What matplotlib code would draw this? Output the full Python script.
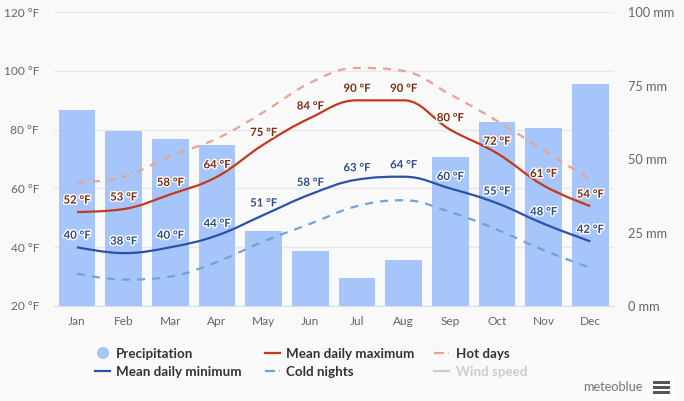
import matplotlib
matplotlib.use("Agg")
import matplotlib.pyplot as plt
import matplotlib.patheffects as pe
from matplotlib.lines import Line2D
from matplotlib.patches import Circle, PathPatch, Rectangle
from matplotlib.path import Path
from matplotlib.transforms import Affine2D

months = ["Jan", "Feb", "Mar", "Apr", "May", "Jun", "Jul", "Aug", "Sep", "Oct", "Nov", "Dec"]
precip_mm = [66.7, 59.5, 56.8, 54.8, 25.5, 18.7, 9.5, 15.6, 50.7, 62.6, 60.6, 75.5]
temp_max = [52, 53, 58, 64, 75, 84, 90, 90, 80, 72, 61, 54]
temp_min = [40, 38, 40, 44, 51, 58, 63, 64, 60, 55, 48, 42]
hot_days = [62, 64, 71, 77, 86, 96, 101, 100, 92, 83, 73, 63]
cold_nights = [31, 29, 30, 35, 42, 48, 54, 56, 52, 46, 39, 33]
temp_ticks = [20, 40, 60, 80, 100, 120]
precip_ticks = [0, 25, 50, 75, 100]

W, H = 684, 401
BG = "#f9f9f9"
GRID = "#e8e8e8"
TICK = "#666666"
BAR = "#a6c6fb"
RED = "#c2391b"
BLUE = "#2b52a8"
HOT = "#e8a396"
COLD = "#70a3d3"

plt.rcParams["font.family"] = ["Lato", "DejaVu Sans"]


def spline_path(xs, ys, smoothing=1.5):
    # same control points a Highcharts spline uses, one bezier per month
    verts = [(xs[0], ys[0])]
    codes = [Path.MOVETO]
    right = [(xs[0], ys[0])]
    left = [None]
    for i in range(1, len(xs) - 1):
        lx = (smoothing * xs[i] + xs[i - 1]) / (smoothing + 1)
        ly = (smoothing * ys[i] + ys[i - 1]) / (smoothing + 1)
        rx = (smoothing * xs[i] + xs[i + 1]) / (smoothing + 1)
        ry = (smoothing * ys[i] + ys[i + 1]) / (smoothing + 1)
        corr = (ry - ly) * (rx - xs[i]) / (rx - lx) + ys[i] - ry
        ly += corr
        ry += corr
        if ly > ys[i - 1] and ly > ys[i]:
            ly = max(ys[i - 1], ys[i])
            ry = 2 * ys[i] - ly
        elif ly < ys[i - 1] and ly < ys[i]:
            ly = min(ys[i - 1], ys[i])
            ry = 2 * ys[i] - ly
        if ry > ys[i + 1] and ry > ys[i]:
            ry = max(ys[i + 1], ys[i])
            ly = 2 * ys[i] - ry
        elif ry < ys[i + 1] and ry < ys[i]:
            ry = min(ys[i + 1], ys[i])
            ly = 2 * ys[i] - ry
        left.append((lx, ly))
        right.append((rx, ry))
    left.append((xs[-1], ys[-1]))
    for i in range(1, len(xs)):
        verts += [right[i - 1], left[i], (xs[i], ys[i])]
        codes += [Path.CURVE4] * 3
    return Path(verts, codes)


fig = plt.figure(figsize=(W / 100, H / 100), dpi=100, facecolor=BG)
px = Affine2D().scale(1 / W, -1 / H).translate(0, 1) + fig.transFigure

left, right, top, bottom = 53.7, 613.6, 12.2, 306
ax = fig.add_axes([left / W, 1 - bottom / H, (right - left) / W, (bottom - top) / H])
ax.set_facecolor("none")
ax.set_xlim(-0.5, 11.5)
ax.set_ylim(20, 120)
ax.set_xticks(range(12), months)
ax.set_yticks(temp_ticks, [f"{t} °F" for t in temp_ticks])
ax.tick_params(axis="both", length=0, labelsize=8.6, labelcolor=TICK)
ax.tick_params(axis="y", pad=10.5)
ax.tick_params(axis="x", pad=7.5)
ax.grid(axis="y", color=GRID, lw=1)
ax.set_axisbelow(True)
for s in ["top", "left", "right"]:
    ax.spines[s].set_visible(False)
ax.spines["bottom"].set_color("#d8dfe8")

axr = ax.twinx()
axr.set_ylim(0, 100)
axr.set_yticks(precip_ticks, [f"{t} mm" for t in precip_ticks])
axr.tick_params(axis="y", length=0, labelsize=9.2, labelcolor=TICK, pad=10.5)
for s in axr.spines.values():
    s.set_visible(False)
axr.bar(range(12), precip_mm, width=0.785, color=BAR, zorder=1)

# lines have to sit over the bars, so they go on a third layer
top_ax = fig.add_axes(ax.get_position(), sharex=ax, sharey=ax)
top_ax.axis("off")
xs = list(range(12))
for ys, color, lw, ls in [
    (cold_nights, COLD, 1.6, (0, (3.6, 3.2))),
    (hot_days, HOT, 1.6, (0, (3.6, 3.2))),
    (temp_max, RED, 1.6, "-"),
    (temp_min, BLUE, 1.6, "-"),
]:
    top_ax.add_patch(PathPatch(spline_path(xs, ys), fc="none", ec=color, lw=lw, ls=ls, capstyle="butt"))

halo = [pe.withStroke(linewidth=2, foreground="white")]
for ys, color in [(temp_max, "#7a2c12"), (temp_min, "#2d4a8a")]:
    for x, y in zip(xs, ys):
        top_ax.annotate(f"{y} °F", (x, y), xytext=(0, 8.6), textcoords="offset points", ha="center", va="center",
                        fontsize=8.2, fontweight="bold", color=color, path_effects=halo)

# legend, placed by hand in pixel positions
legend_text = "#333333"
fig.add_artist(Circle((103, 353), 6, transform=px, fc=BAR, ec="none"))
for x0, y, color, ls in [
    (95, 371, BLUE, "-"),
    (265, 353, RED, "-"),
    (265, 371, COLD, (0, (4.5, 2, 1.5, 2))),
    (434, 353, HOT, (0, (4.5, 2, 1.5, 2))),
    (434, 371, "#cccccc", "-"),
]:
    fig.add_artist(Line2D([x0, x0 + 15], [y, y], transform=px, color=color, lw=1.6, ls=ls))
for x, y, label, color in [
    (116, 353.5, "Precipitation", legend_text),
    (116, 371.5, "Mean daily minimum", legend_text),
    (286, 353.5, "Mean daily maximum", legend_text),
    (286, 371.5, "Cold nights", legend_text),
    (456, 353.5, "Hot days", legend_text),
    (456, 371.5, "Wind speed", "#cccccc"),
]:
    fig.text(x, y, label, transform=px, fontsize=9.6, fontweight="bold", color=color, ha="left", va="center")

fig.text(642, 387, "meteoblue", transform=px, fontsize=9.2, color="#777777", ha="right", va="center")
fig.add_artist(Rectangle((648, 376), 27, 22, transform=px, fc="#fdfdfd", ec="none"))
for y in [380.5, 385.5, 390.5]:
    fig.add_artist(Rectangle((653, y), 17, 3, transform=px, fc="#555555", ec="none"))

fig.savefig("out.png", dpi=100, facecolor=BG)
